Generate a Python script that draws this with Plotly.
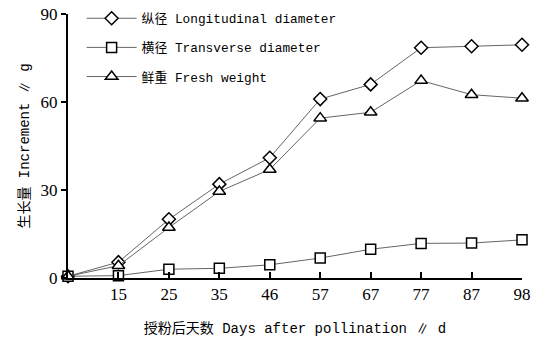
import plotly.graph_objects as go

days = ["0", "15", "25", "35", "46", "57", "67", "77", "87", "98"]
tick_labels = ["", "15", "25", "35", "46", "57", "67", "77", "87", "98"]
longitudinal = [0.6, 5.4, 20.0, 32.0, 41.0, 61.0, 66.0, 78.5, 79.0, 79.5]
transverse = [0.6, 0.8, 3.0, 3.3, 4.5, 6.8, 9.8, 11.8, 11.9, 13.0]
fresh_weight = [0.6, 4.2, 17.2, 29.5, 37.0, 54.5, 56.5, 67.3, 62.5, 61.3]
names = ["纵径 Longitudinal diameter", "横径 Transverse diameter", "鲜重 Fresh weight"]
symbols = ["diamond", "square", "triangle-up"]
sizes = [10, 10, 11]

FONT = "Liberation Serif, Noto Sans CJK SC, serif"
MONO = "Liberation Mono, Noto Sans CJK SC, monospace"

fig = go.Figure()
for i, (ys, nm) in enumerate(zip([longitudinal, transverse, fresh_weight], names)):
    fig.add_trace(go.Scatter(
        x=days, y=ys, name=nm, mode="lines+markers",
        legendgroup=f"g{i}",
        line=dict(color="#666666", width=1),
        marker=dict(symbol=symbols[i], size=sizes[i], color="white",
                    line=dict(color="black", width=1.5)),
        cliponaxis=False,
    ))

fig.update_layout(
    width=533, height=339,
    margin=dict(l=68, r=11, t=14, b=61, autoexpand=False),
    paper_bgcolor="white", plot_bgcolor="white",
    showlegend=True,
    legend=dict(x=0.03, y=1.04, xanchor="left", yanchor="top",
                font=dict(family=MONO, size=12.8, color="black"),
                tracegroupgap=9.5, traceorder="grouped", itemwidth=50,
                bgcolor="rgba(0,0,0,0)"),
    font=dict(family=FONT, color="black"),
)
fig.update_xaxes(
    type="category", categoryorder="array", categoryarray=days,
    range=[0, 9], automargin=False,
    tickmode="array", tickvals=days, ticktext=tick_labels,
    ticks="inside", ticklen=6, tickwidth=1.5, tickcolor="black",
    showline=True, linecolor="black", linewidth=2,
    showgrid=False, zeroline=False,
    tickfont=dict(family=FONT, size=17, color="black"),
    title=dict(text="授粉后天数 Days after pollination ∥ d",
               font=dict(family=MONO, size=14, color="black"), standoff=20),
)
fig.update_yaxes(
    range=[0, 90], tickvals=[0, 30, 60, 90], automargin=False,
    ticks="outside", ticklen=5, tickwidth=1.5, tickcolor="black",
    showline=True, linecolor="black", linewidth=2,
    showgrid=False, zeroline=False,
    tickfont=dict(family=FONT, size=17, color="black"),
    title=dict(text="生长量 Increment ∥ g",
               font=dict(family=MONO, size=14, color="black"), standoff=8),
)

fig.write_html("out.html", config={"displayModeBar": False},
               post_script="document.body.style.margin='0';")
